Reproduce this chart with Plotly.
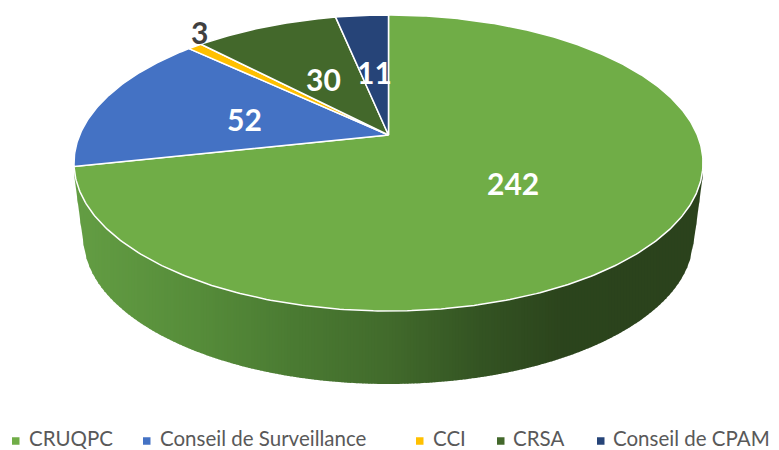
import math
import numpy as np
import plotly.graph_objects as go

categories = ["CRUQPC", "Conseil de Surveillance", "CCI", "CRSA", "Conseil de CPAM"]
values = [242, 52, 3, 30, 11]
colors = ["#70AD47", "#4472C4", "#FFC000", "#43682B", "#264478"]

# Layout only (pixels of the 779x450 page)
W, H = 779, 450
APEX_X, APEX_Y = 388.5, 135.0
TOP_H, BOT_H = 120.0, 176.0
C = (BOT_H - TOP_H) / (BOT_H + TOP_H)
P = TOP_H * (1 + C)
RX = 314.5 * math.sqrt(1 - C * C)
label_xy = [(513, 183), (244, 119), (199, 32), (323, 79), (374, 72)]
label_colors = ["white", "white", "#404040", "white", "white"]
legend_text_x = [29, 160, 433, 513, 613]
legend_swatch_x = [12, 143, 416, 497, 597]
SWATCH = 7.5
LEG_Y = 441
LEG_TEXT_Y = 438


def project(theta):
    X, Y = np.sin(theta), np.cos(theta)
    d = 1 + C * Y
    return APEX_X + RX * X / d, APEX_Y - P * Y / d


def lower_edge(x):
    cx, cy, rx, ry = 388.5, 238.0, 305.0, 146.0
    dx = abs(x - cx)
    if dx >= rx - 0.01:
        # straight tangent flank up to the rim
        return 245 - (dx - rx) * 7.5
    return cy + ry * math.sqrt(1 - (dx / rx) ** 2)


grad_x = [74, 200, 300, 388, 480, 560, 703]
grad_rgb = [(100, 158, 68), (86, 140, 58), (74, 122, 50), (66, 107, 44), (52, 84, 35), (44, 69, 29), (43, 66, 28)]


def side_color(x):
    return "rgb(%d,%d,%d)" % tuple(np.interp(x, grad_x, [c[i] for c in grad_rgb]) for i in range(3))


fig = go.Figure()

# Side wall: thin gradient strips
edges = np.arange(74.5, 703, 3.0).tolist() + [702.5]
for a, b in zip(edges[:-1], edges[1:]):
    b2 = min(b + 0.8, 702.5)
    fig.add_trace(go.Scatter(
        x=[a, b2, b2, a], y=[160, 160, lower_edge(b2), lower_edge(a)],
        mode="lines", fill="toself", fillcolor=side_color((a + b) / 2),
        line=dict(width=0), hoverinfo="skip", showlegend=False))

# Top face: wedges from the values
total = sum(values)
start = 0.0
for name, v, col in zip(categories, values, colors):
    end = start + v / total * 2 * math.pi
    t = np.linspace(start, end, max(int((end - start) * 90), 4))
    px, py = project(t)
    fig.add_trace(go.Scatter(
        x=[APEX_X] + px.tolist() + [APEX_X], y=[APEX_Y] + py.tolist() + [APEX_Y],
        mode="lines", fill="toself", fillcolor=col,
        line=dict(color="white", width=1.5), name=name,
        hoverinfo="name", showlegend=False))
    start = end

annotations = [
    dict(x=x, y=y, text=f"<b>{v}</b>", showarrow=False, xref="x", yref="y",
         font=dict(family="Lato", size=30, color=c))
    for (x, y), v, c in zip(label_xy, values, label_colors)
]
annotations += [
    dict(x=x, y=LEG_TEXT_Y, text=name, showarrow=False, xref="x", yref="y", xanchor="left",
         xshift=-2, font=dict(family="Lato", size=20.5, color="#595959"))
    for x, name in zip(legend_text_x, categories)
]
shapes = [
    dict(type="rect", xref="x", yref="y", x0=x, x1=x + SWATCH, y0=LEG_Y - SWATCH / 2, y1=LEG_Y + SWATCH / 2,
         fillcolor=c, line=dict(width=0))
    for x, c in zip(legend_swatch_x, colors)
]

fig.update_layout(
    width=W, height=H, margin=dict(l=0, r=0, t=0, b=0),
    paper_bgcolor="white", plot_bgcolor="white", showlegend=False,
    xaxis=dict(range=[0, W], visible=False, fixedrange=True),
    yaxis=dict(range=[H, 0], visible=False, fixedrange=True),
    annotations=annotations, shapes=shapes,
)
fig.write_html("out.html", config={"displayModeBar": False},
               post_script="document.body.style.margin='0';document.documentElement.style.overflow='hidden';")
